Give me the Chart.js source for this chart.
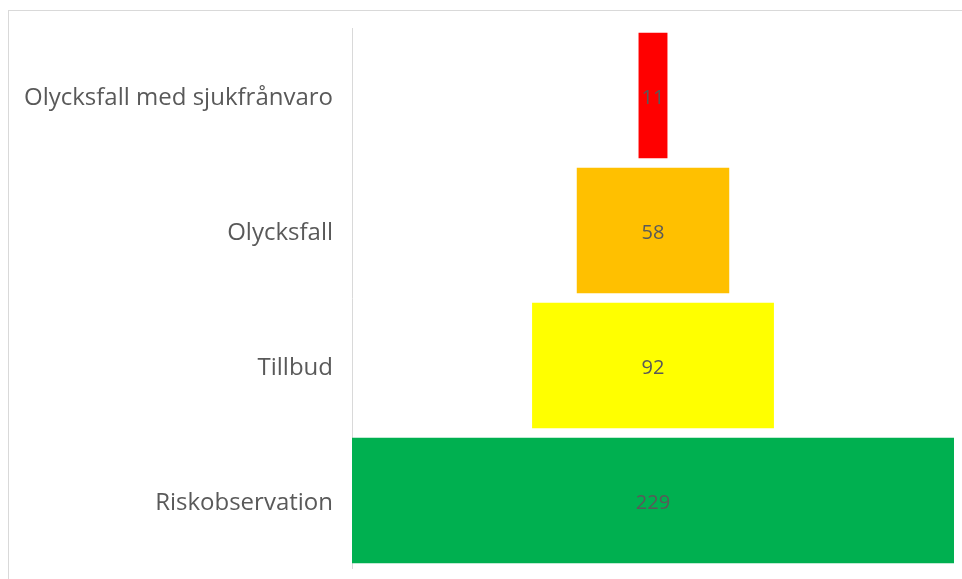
<!DOCTYPE html>
<html>
<head>
<meta charset="utf-8">
<script src="https://cdn.jsdelivr.net/npm/chart.js@4"></script>
<style>
  html, body { margin: 0; padding: 0; background: #fff; overflow: hidden; }
  #frame { position: absolute; left: 8px; top: 10px; width: 1000px; height: 600px;
           border-top: 1px solid #d9d9d9; border-left: 1px solid #d9d9d9; }
  #wrap { position: absolute; left: 0; top: 0; width: 962px; height: 579px; }
</style>
</head>
<body>
<div id="frame"></div>
<div id="wrap"><canvas id="graph1" width="962" height="579"></canvas></div>
<script>
var categories = ['Olycksfall med sjukfrånvaro', 'Olycksfall', 'Tillbud', 'Riskobservation'];
var values = [11, 58, 92, 229];
var barColors = ['#FF0000', '#FFC000', '#FFFF00', '#00B050'];
var maxValue = 229;

// invisible spacer so each bar sits centred (funnel)
var spacer = values.map(function(v) { return (maxValue - v) / 2; });

var valueLabels = {
  id: 'valueLabels',
  afterDatasetsDraw: function(chart) {
    var ctx = chart.ctx;
    var meta = chart.getDatasetMeta(1);
    ctx.save();
    ctx.fillStyle = '#595959';
    ctx.font = '20px "Open Sans"';
    ctx.textAlign = 'center';
    ctx.textBaseline = 'middle';
    meta.data.forEach(function(bar, i) {
      var p = bar.getProps(['x', 'y', 'base'], true);
      ctx.fillText(String(values[i]), (p.x + p.base) / 2, p.y + 3);
    });
    ctx.restore();
  }
};

document.addEventListener('DOMContentLoaded', function() {
  var ctx = document.querySelector('#graph1').getContext('2d');
  var chart = new Chart(ctx, {
    type: 'bar',
    data: {
      labels: categories,
      datasets: [{
        label: 'spacer',
        data: spacer,
        backgroundColor: 'rgba(0,0,0,0)',
        categoryPercentage: 0.93,
        barPercentage: 1
      }, {
        label: 'Antal',
        data: values,
        backgroundColor: barColors,
        categoryPercentage: 0.93,
        barPercentage: 1
      }]
    },
    options: {
      indexAxis: 'y',
      responsive: false,
      animation: false,
      layout: { padding: { left: 0, right: 8, top: 28, bottom: 11 } },
      plugins: { legend: { display: false }, tooltip: { enabled: false } },
      scales: {
        x: { stacked: true, display: false, min: 0, max: maxValue },
        y: {
          stacked: true,
          grid: { display: true, drawOnChartArea: false, drawTicks: false },
          border: { display: true, color: '#d9d9d9', width: 1 },
          ticks: { color: '#595959', font: { family: '"Open Sans"', size: 24 }, padding: 19, labelOffset: 3 },
          afterFit: function(scale) {
            scale.width = 352;
            scale.paddingTop = 0;
            scale.paddingBottom = 0;
          }
        }
      }
    },
    plugins: [valueLabels]
  });
});
</script>
</body>
</html>
